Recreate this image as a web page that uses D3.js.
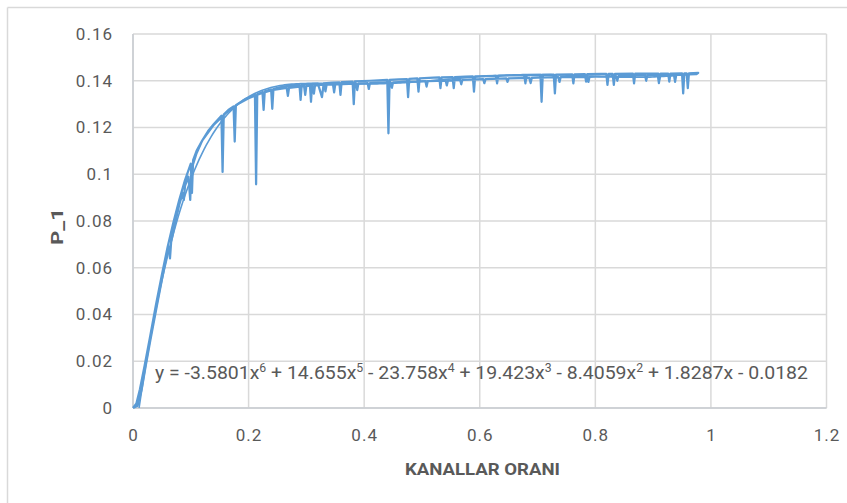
<!DOCTYPE html>
<html><head><meta charset="utf-8">
<script src="https://cdn.jsdelivr.net/npm/d3@7/dist/d3.min.js"></script>
<style>
body{margin:0;background:#fff;}
text{font-family:Roboto,"Liberation Sans",sans-serif;fill:#595959;}
</style></head>
<body><svg id="c" width="847" height="503"></svg>
<script>
// ---- data ----
const xTicks = [0, 0.2, 0.4, 0.6, 0.8, 1, 1.2];
const yTicks = [0, 0.02, 0.04, 0.06, 0.08, 0.1, 0.12, 0.14, 0.16];
const xTitle = "KANALLAR ORANI";
const yTitle = "P_1";
// polynomial trendline coefficients, highest power first (x^6 ... x^0)
const trendCoef = [-3.5801, 14.655, -23.758, 19.423, -8.4059, 1.8287, -0.0182];
const trendRange = [0.0105, 0.978];
// measured series, pass 1 (upward)
const pass1 = [[0,0],[0.008,0.001],[0.015,0.008],[0.022,0.018],[0.03,0.029],[0.04,0.042],[0.05,0.055],[0.058,0.065],[0.062,0.069],[0.064,0.064],[0.066,0.071],[0.072,0.078],[0.08,0.087],[0.086,0.092],[0.088,0.089],[0.09,0.095],[0.096,0.099],[0.099,0.089],[0.101,0.102],[0.11,0.109],[0.12,0.1145],[0.13,0.1185],[0.14,0.1215],[0.153,0.125],[0.155,0.101],[0.157,0.1255],[0.165,0.1275],[0.174,0.129],[0.176,0.114],[0.178,0.1295],[0.19,0.1315],[0.2,0.1328],[0.211,0.134],[0.213,0.0957],[0.215,0.1342],[0.224,0.1352],[0.226,0.1275],[0.228,0.1355],[0.239,0.1363],[0.241,0.128],[0.243,0.1365],[0.26,0.1375],[0.275,0.138],[0.288,0.1383],[0.29,0.1318],[0.292,0.1384],[0.306,0.1386],[0.308,0.131],[0.31,0.1387],[0.32,0.1388],[0.327,0.133],[0.33,0.1389],[0.345,0.1392],[0.357,0.1393],[0.359,0.134],[0.361,0.1394],[0.38,0.1396],[0.382,0.130],[0.384,0.1397],[0.41,0.14],[0.425,0.1402],[0.44,0.1404],[0.442,0.1175],[0.444,0.1404],[0.46,0.1406],[0.474,0.1407],[0.476,0.133],[0.478,0.1408],[0.492,0.141],[0.494,0.1353],[0.496,0.141],[0.52,0.1413],[0.53,0.1414],[0.532,0.1368],[0.534,0.1414],[0.553,0.1416],[0.555,0.1368],[0.557,0.1416],[0.575,0.1418],[0.588,0.1419],[0.59,0.1353],[0.592,0.1419],[0.61,0.142],[0.628,0.1421],[0.63,0.1389],[0.632,0.1421],[0.655,0.1423],[0.677,0.1424],[0.679,0.1389],[0.681,0.1424],[0.705,0.1425],[0.707,0.131],[0.709,0.1425],[0.728,0.1426],[0.73,0.1346],[0.732,0.1426],[0.76,0.1427],[0.762,0.1389],[0.764,0.1427],[0.782,0.1428],[0.784,0.1396],[0.786,0.1428],[0.81,0.1429],[0.819,0.1429],[0.821,0.1382],[0.823,0.1429],[0.83,0.1429],[0.832,0.1382],[0.834,0.1429],[0.865,0.143],[0.867,0.1389],[0.869,0.143],[0.9,0.1431],[0.909,0.1431],[0.911,0.1403],[0.913,0.1431],[0.926,0.1431],[0.928,0.1396],[0.93,0.1431],[0.95,0.1432],[0.952,0.1346],[0.954,0.1432],[0.958,0.1432],[0.96,0.1368],[0.962,0.1432],[0.978,0.1434]];
// measured series, pass 2 (downward)
const pass2 = [[0.975,0.1428],[0.95,0.1426],[0.94,0.1425],[0.938,0.1395],[0.936,0.1425],[0.912,0.1424],[0.91,0.139],[0.908,0.1424],[0.89,0.1423],[0.888,0.14],[0.886,0.1423],[0.85,0.1421],[0.84,0.142],[0.838,0.14],[0.836,0.142],[0.80,0.1418],[0.79,0.1417],[0.788,0.1395],[0.786,0.1417],[0.75,0.1416],[0.74,0.1415],[0.738,0.1395],[0.736,0.1415],[0.70,0.1413],[0.69,0.1412],[0.688,0.139],[0.686,0.1412],[0.65,0.141],[0.648,0.1395],[0.646,0.141],[0.61,0.1407],[0.608,0.139],[0.606,0.1407],[0.57,0.1404],[0.568,0.1385],[0.566,0.1404],[0.545,0.1401],[0.543,0.138],[0.541,0.1401],[0.51,0.1398],[0.508,0.1375],[0.506,0.1398],[0.46,0.1394],[0.45,0.1393],[0.448,0.137],[0.446,0.1393],[0.41,0.139],[0.408,0.1365],[0.406,0.139],[0.39,0.1388],[0.388,0.136],[0.386,0.1388],[0.35,0.1385],[0.348,0.135],[0.346,0.1385],[0.335,0.1383],[0.333,0.1355],[0.331,0.1383],[0.315,0.138],[0.313,0.1345],[0.311,0.138],[0.30,0.1378],[0.298,0.134],[0.296,0.1377],[0.27,0.137],[0.268,0.1335],[0.266,0.1369],[0.24,0.136],[0.22,0.1345],[0.20,0.1325],[0.18,0.1298],[0.16,0.126],[0.14,0.1212],[0.12,0.1145],[0.11,0.11],[0.104,0.106],[0.102,0.092],[0.10,0.1045],[0.09,0.0975],[0.08,0.089],[0.07,0.0795],[0.06,0.069],[0.05,0.057],[0.04,0.0445],[0.03,0.031],[0.02,0.018],[0.012,0.008],[0.006,0.002],[0,0]];

// ---- layout ----
const svg = d3.select("#c");
const L = 133, R = 826.5, T = 34, B = 408;
const x = d3.scaleLinear().domain([0, 1.2]).range([L, R]);
const y = d3.scaleLinear().domain([0, 0.16]).range([B, T]);
const grid = "#d9d9d9";

// outer chart border (top + left visible)
svg.append("line").attr("x1",7.5).attr("x2",847).attr("y1",7.5).attr("y2",7.5).attr("stroke","#d9d9d9").attr("stroke-width",1.5);
svg.append("line").attr("x1",7.5).attr("x2",7.5).attr("y1",7.5).attr("y2",503).attr("stroke","#d9d9d9").attr("stroke-width",1.5);

// gridlines
svg.append("g").selectAll("line").data(yTicks).join("line")
  .attr("x1",L).attr("x2",R).attr("y1",d=>y(d)).attr("y2",d=>y(d))
  .attr("stroke",grid).attr("stroke-width",1.5);
svg.append("g").selectAll("line").data(xTicks).join("line")
  .attr("x1",d=>x(d)).attr("x2",d=>x(d)).attr("y1",T).attr("y2",B)
  .attr("stroke",grid).attr("stroke-width",1.5);
// axes lines
svg.append("line").attr("x1",L).attr("x2",R).attr("y1",B).attr("y2",B).attr("stroke","#c8ccd2").attr("stroke-width",1.5);
svg.append("line").attr("x1",L).attr("x2",L).attr("y1",T).attr("y2",B).attr("stroke","#c8ccd2").attr("stroke-width",1.5);

// tick labels via d3 axes
const fmt = d => d3.format("")(+d.toFixed(2));
const yAxis = svg.append("g").attr("transform",`translate(${L},0)`)
  .call(d3.axisLeft(y).tickValues(yTicks).tickFormat(fmt).tickSize(0).tickPadding(20));
const xAxis = svg.append("g").attr("transform",`translate(0,${B})`)
  .call(d3.axisBottom(x).tickValues(xTicks).tickFormat(fmt).tickSize(0).tickPadding(21));
[yAxis,xAxis].forEach(g=>{g.select(".domain").remove();
  g.selectAll("text").attr("font-size",17).attr("fill","#595959")
   .attr("letter-spacing",1).style("font-family",'Roboto,sans-serif');});

// axis titles
svg.append("text").attr("x",482.5).attr("y",475).attr("text-anchor","middle")
  .attr("font-size",17).attr("font-weight","bold").attr("fill","#4f5663")
  .attr("textLength",155).attr("lengthAdjust","spacingAndGlyphs").text(xTitle);
svg.append("text").attr("transform","translate(63,226.5) rotate(-90)").attr("text-anchor","middle")
  .attr("font-size",17).attr("font-weight","bold").attr("fill","#4f5663")
  .attr("textLength",37).attr("lengthAdjust","spacingAndGlyphs").text(yTitle);

// data line
const line = d3.line().x(d=>x(d[0])).y(d=>y(d[1]));
const blue = "#5b9bd5";
svg.append("path").attr("d",line(pass1.concat(pass2))).attr("fill","none")
  .attr("stroke",blue).attr("stroke-width",2.25).attr("stroke-linejoin","round");

// trendline from coefficients
const poly = v => trendCoef.reduce((a,c)=>a*v+c,0);
const tx = d3.range(trendRange[0], trendRange[1]+1e-9, 0.004);
svg.append("path").attr("d",d3.line().x(d=>x(d)).y(d=>y(Math.max(0,poly(d))))(tx))
  .attr("fill","none").attr("stroke",blue).attr("stroke-width",1.6);

// equation label
const eq = svg.append("text").attr("x",155).attr("y",379).attr("font-size",19)
  .attr("textLength",653).attr("lengthAdjust","spacingAndGlyphs");
const parts = [["y = -3.5801x",""],["6",1],[" + 14.655x",""],["5",1],[" - 23.758x",""],["4",1],[" + 19.423x",""],["3",1],[" - 8.4059x",""],["2",1],[" + 1.8287x - 0.0182",""]];
parts.forEach((p,i)=>{
  const t = eq.append("tspan").text(p[0]);
  if(p[1]) t.attr("font-size",12).attr("dy",-7);
  else if(i>0) t.attr("dy",7);
});
</script></body></html>
